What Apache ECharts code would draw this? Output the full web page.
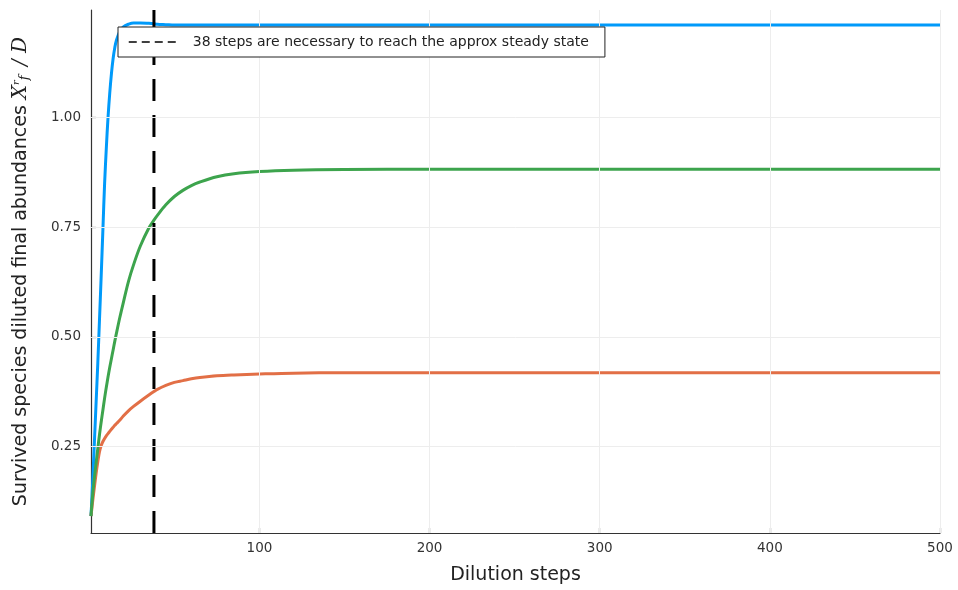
<!DOCTYPE html>
<html>
<head>
<meta charset="utf-8">
<script src="https://cdn.jsdelivr.net/npm/echarts@6/dist/echarts.min.js"></script>
<style>html,body{margin:0;padding:0;background:#fff;}#c{width:958px;height:590px;}</style>
</head>
<body>
<div id="c"></div>
<script>
const steps = [1,2,3,4,5,6,7,8,9,10,11,12,13,14,15,16,18,20,23,26,30,35,38,40,45,50,55,60,65,75,85,100,120,150,200,300,400,500];
const blueVals = [0.091,0.17,0.26,0.35,0.44,0.54,0.64,0.745,0.85,0.93,1.0,1.055,1.10,1.135,1.16,1.177,1.197,1.207,1.213,1.216,1.216,1.215,1.214,1.213,1.212,1.211,1.211,1.211,1.211,1.211,1.211,1.211,1.211,1.211,1.211,1.211,1.211,1.211];
const orangeVals = [0.091,0.125,0.157,0.188,0.215,0.238,0.252,0.261,0.268,0.274,0.279,0.284,0.289,0.2935,0.298,0.302,0.31,0.319,0.331,0.341,0.353,0.367,0.375,0.38,0.389,0.396,0.40,0.404,0.407,0.411,0.413,0.415,0.417,0.418,0.418,0.418,0.418,0.418];
const greenVals = [0.091,0.14,0.178,0.212,0.245,0.277,0.306,0.333,0.36,0.385,0.408,0.43,0.45,0.47,0.49,0.509,0.545,0.578,0.626,0.664,0.707,0.748,0.766,0.777,0.801,0.82,0.834,0.845,0.853,0.865,0.872,0.877,0.88,0.8815,0.882,0.882,0.882,0.882];
const steadyStep = 38;
const legendLabel = '38 steps are necessary to reach the approx steady state';
const xTicks = [100,200,300,400,500];
const yTicks = [0.25,0.50,0.75,1.00];
const yMin = 0.0523, yMax = 1.2455;
const xMin = 1, xMax = 500;

const pair = (xs, ys) => xs.map((x, i) => [x, ys[i]]);
const font = 'DejaVu Sans';
const curve = (name, vals, color) => ({
  name: name, type: 'line', data: pair(steps, vals), showSymbol: false, symbol: 'none',
  smooth: 0.35, lineStyle: {color: color, width: 3}, itemStyle: {color: color},
  z: 2, silent: true, animation: false
});
const gridLine = {color: '#ededed', width: 1, type: 'solid'};

const chart = echarts.init(document.getElementById('c'), null, {renderer: 'canvas'});
chart.setOption({
  animation: false,
  backgroundColor: '#fff',
  grid: {left: 91, right: 18, top: 10, bottom: 55, containLabel: false},
  xAxis: {
    type: 'value', min: xMin, max: xMax,
    name: 'Dilution steps', nameLocation: 'middle', nameGap: 33,
    nameTextStyle: {fontFamily: font, fontSize: 19, color: '#222'},
    axisLine: {show: true, onZero: false, lineStyle: {color: '#333', width: 1.2}},
    axisTick: {show: true, inside: true, length: 5, customValues: xTicks, lineStyle: {color: '#333', width: 1.2}},
    axisLabel: {fontFamily: font, fontSize: 13.5, color: '#333', margin: 8, customValues: xTicks,
      formatter: v => String(Math.round(v))},
    splitLine: {show: false}
  },
  yAxis: {
    type: 'value', min: yMin, max: yMax,
    name: 'Survived species diluted final abundances {i|X}{sup|r}{sub|f}{i| / D}',
    nameLocation: 'middle', nameGap: 60, nameRotate: 90,
    nameTextStyle: {fontFamily: font, fontSize: 19, color: '#222',
      rich: {
        i: {fontFamily: 'DejaVu Serif', fontStyle: 'italic', fontSize: 20, color: '#222'},
        sup: {fontFamily: 'DejaVu Serif', fontStyle: 'italic', fontSize: 10, color: '#222', verticalAlign: 'top', padding: [0,0,9,0]},
        sub: {fontFamily: 'DejaVu Serif', fontStyle: 'italic', fontSize: 13, color: '#222', padding: [7,3,0,0]}
      }},
    axisLine: {show: true, onZero: false, lineStyle: {color: '#333', width: 1.2}},
    axisTick: {show: true, inside: true, length: 5, customValues: yTicks, lineStyle: {color: '#333', width: 1.2}},
    axisLabel: {fontFamily: font, fontSize: 13.5, color: '#333', margin: 10, customValues: yTicks,
      formatter: v => v.toFixed(2)},
    splitLine: {show: false}
  },
  legend: {
    show: true, data: [legendLabel], left: 118, top: 27, z: 20, zlevel: 0,
    orient: 'horizontal', backgroundColor: '#fff', borderColor: '#222', borderWidth: 1,
    padding: [8, 16, 8, 10], itemWidth: 52, itemHeight: 14, itemGap: 5,
    textStyle: {fontFamily: font, fontSize: 14, color: '#222', padding: [0, 0, 0, 7]},
    itemStyle: {color: 'rgba(0,0,0,0)', borderWidth: 0},
    lineStyle: {type: [8, 5], width: 1.5, color: '#000'}
  },
  series: [
    {
      name: 'grid', type: 'line', data: [], silent: true, z: 1,
      markLine: {
        silent: true, symbol: ['none', 'none'], label: {show: false}, animation: false,
        lineStyle: gridLine,
        data: xTicks.map(v => ({xAxis: v})).concat(yTicks.map(v => ({yAxis: v})))
      }
    },
    curve('blue', blueVals, '#009AFA'),
    curve('orange', orangeVals, '#E26F46'),
    curve('green', greenVals, '#3DA44D'),
    {
      name: legendLabel, type: 'line', data: [[steadyStep, yMin], [steadyStep, yMax]],
      showSymbol: false, symbol: 'none', lineStyle: {color: '#000', width: 3, type: [22, 14]},
      itemStyle: {color: '#000'}, z: 3, silent: true
    }
  ]
});
</script>
</body>
</html>
